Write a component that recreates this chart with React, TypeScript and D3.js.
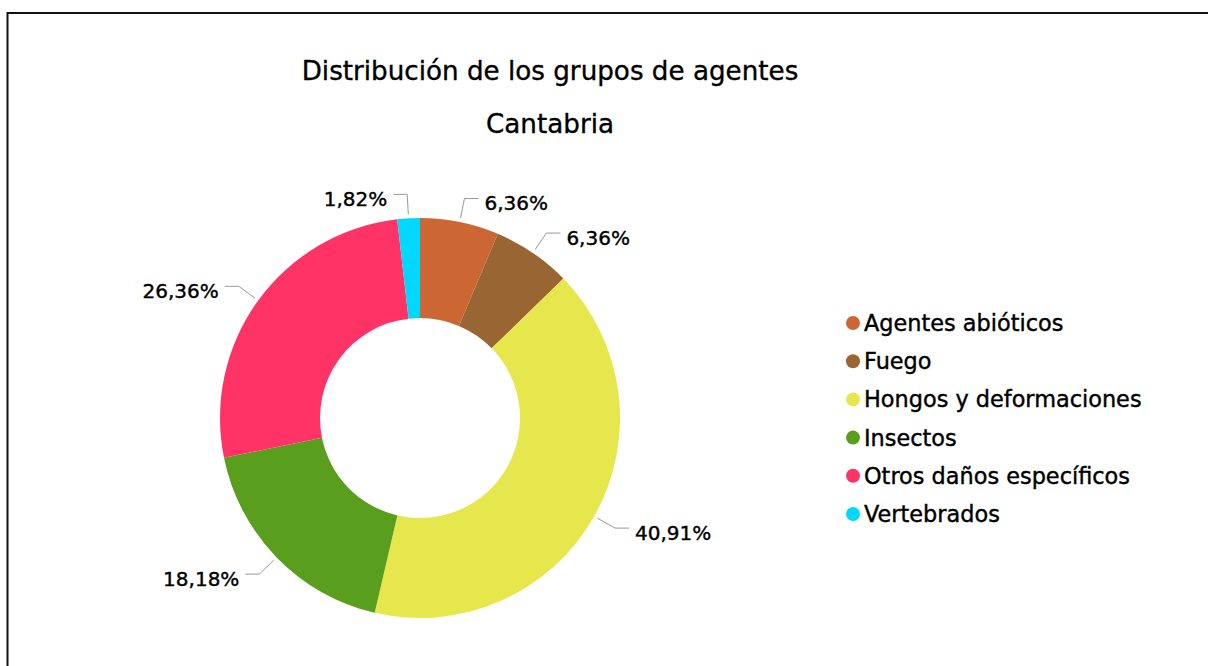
import React from "react";
import * as d3 from "d3";

const categories = [
  "Agentes abióticos",
  "Fuego",
  "Hongos y deformaciones",
  "Insectos",
  "Otros daños específicos",
  "Vertebrados",
];
const values = [6.36, 6.36, 40.91, 18.18, 26.36, 1.82];
const colors = ["#CC6633", "#996633", "#E6E64D", "#5A9E1E", "#FF3366", "#00D8FF"];
const titleLines = ["Distribución de los grupos de agentes", "Cantabria"];

const W = 1208;
const H = 666;
const FONT = "'DejaVu Sans', Verdana, sans-serif";

export default function App() {
  const cx = 420;
  const cy = 418;
  const rOuter = 200;
  const rInner = 100;

  const pie = d3.pie<number>().sort(null).value((d) => d);
  const arcs = pie(values);
  const arc = d3.arc<d3.PieArcDatum<number>>().innerRadius(rInner).outerRadius(rOuter);

  const fmt = (v: number) => v.toFixed(2).replace(".", ",") + "%";

  const legendY = d3.scaleLinear().domain([0, categories.length - 1]).range([323, 514]);

  return (
    <svg
      width={W}
      height={H}
      style={{ position: "absolute", left: 0, top: 0, background: "#fff" }}
      fontFamily={FONT}
    >
      <rect x={0} y={0} width={W} height={H} fill="#fff" />
      <path d={`M7.5,${H + 5} L7.5,13 L${W + 5},13`} fill="none" stroke="#111" strokeWidth={2} />

      {titleLines.map((t, i) => (
        <text
          key={i}
          x={550}
          y={80 + i * 53}
          textAnchor="middle"
          fontSize={26.2}
          fill="#000"
          stroke="#000"
          strokeWidth={0.35}
        >
          {t}
        </text>
      ))}

      <g transform={`translate(${cx},${cy})`}>
        {arcs.map((a, i) => (
          <path key={i} d={arc(a) || ""} fill={colors[i]} />
        ))}
        {arcs.map((a, i) => {
          const mid = (a.startAngle + a.endAngle) / 2;
          const sx = Math.sin(mid) * 204;
          const sy = -Math.cos(mid) * 204;
          const bx = Math.sin(mid) * 224;
          const by = -Math.cos(mid) * 224;
          const right = Math.sin(mid) >= 0;
          const ex = bx + (right ? 14 : -14);
          const tx = ex + (right ? 6 : -6);
          return (
            <g key={"l" + i}>
              <polyline
                points={`${sx},${sy} ${bx},${by} ${ex},${by}`}
                fill="none"
                stroke="#999"
                strokeWidth={1}
              />
              <text
                x={tx}
                y={by + 12}
                textAnchor={right ? "start" : "end"}
                fontSize={20}
                fill="#000"
                stroke="#000"
                strokeWidth={0.4}
              >
                {fmt(values[i])}
              </text>
            </g>
          );
        })}
      </g>

      <g>
        {categories.map((c, i) => (
          <g key={c} transform={`translate(853,${legendY(i)})`}>
            <circle r={7} fill={colors[i]} />
            <text
              x={11}
              y={8}
              fontSize={22.4}
              fill="#000"
              stroke="#000"
              strokeWidth={0.4}
            >
              {c}
            </text>
          </g>
        ))}
      </g>
    </svg>
  );
}
